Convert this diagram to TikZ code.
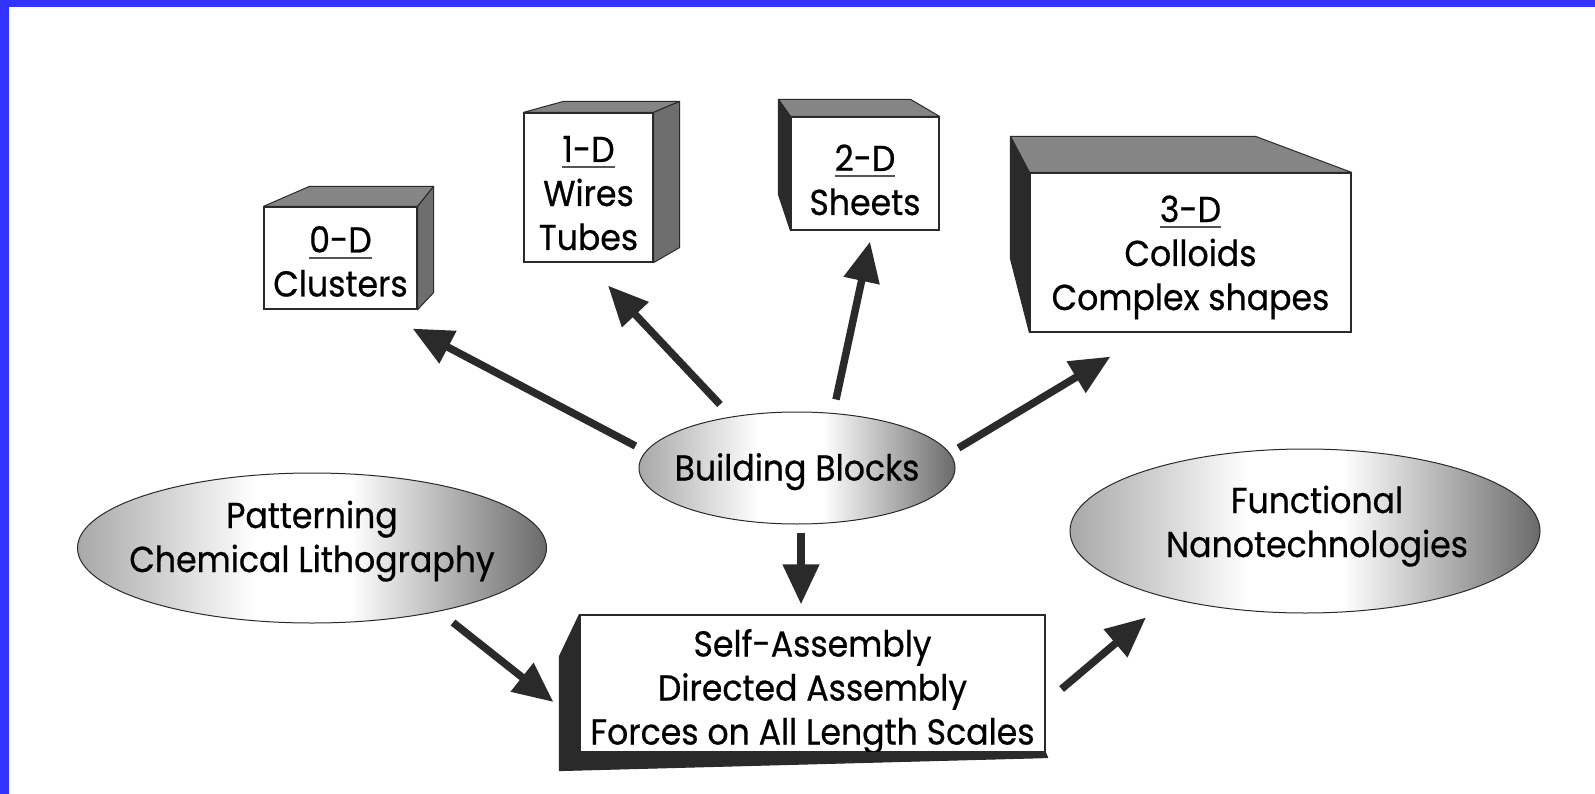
\documentclass[tikz,border=0pt]{standalone}
\usepackage{fontspec}
\setmainfont{Poppins}[FakeStretch=0.92,FakeBold=0.6]
\usetikzlibrary{shapes.geometric,arrows.meta,calc}
\definecolor{bordblue}{HTML}{3333FF}
\definecolor{ink}{HTML}{2A2A2A}
\definecolor{topgray}{HTML}{858585}
\definecolor{sidegray}{HTML}{6E6E6E}
\definecolor{ulgray}{HTML}{555555}
\definecolor{eleft}{HTML}{A8A8A8}
\definecolor{eright}{HTML}{6A6A6A}
\pgfdeclarehorizontalshading{ellshade}{100bp}{color(0bp)=(eleft); color(25bp)=(eleft); color(44bp)=(white); color(54bp)=(white); color(75bp)=(eright); color(100bp)=(eright)}
\newcommand\udl[1]{\setbox0\hbox{#1}\vtop{\offinterlineskip\copy0\kern4pt\hbox{\color{ulgray}\rule{\wd0}{2pt}}}}
\newcommand\mytop[1]{\rule{0pt}{#1pt}}
\newcommand\mybot[1]{\rule[-#1pt]{0pt}{#1pt}}
\tikzset{
  frontbox/.style={rectangle, draw=ink, line width=1.2pt, fill=white, align=center, inner xsep=0pt, inner ysep=-30pt},
  ell/.style={ellipse, draw=ink, line width=1pt, shade, shading=ellshade, align=center, inner xsep=-40pt, inner ysep=-20pt},
  topface/.style={fill=topgray, draw=ink, line width=1pt, line join=round},
  sideface/.style={fill=sidegray, draw=ink, line width=1pt, line join=round},
  darkface/.style={fill=ink, draw=ink, line width=1pt, line join=round},
  arr/.style={draw=ink, line width=7.5pt, -{Triangle[length=40pt,width=35pt]}},
}
\begin{document}
\begin{tikzpicture}[x=1pt,y=-1pt,font=\fontsize{36}{44}\selectfont]
\useasboundingbox (0,0) rectangle (1595,794);
\fill[white] (0,0) rectangle (1595,794);
\fill[bordblue] (0,0) rectangle (1595,7);
\fill[bordblue] (0,0) rectangle (9,794);

% boxes
\node[frontbox, minimum width=153pt, minimum height=102pt] (c0) at (340.5,258) {\mytop{47}\udl{0-D}\\Clusters\mybot{14}};
\node[frontbox, minimum width=129pt, minimum height=149pt] (c1) at (588.5,187.5) {\mytop{51}\udl{1-D}\\Wires\\Tubes\mybot{14}};
\node[frontbox, minimum width=148pt, minimum height=113pt] (c2) at (865,173.5) {\mytop{53}\udl{2-D}\\Sheets\mybot{14}};
\node[frontbox, minimum width=321pt, minimum height=159pt] (c3) at (1190.5,252.5) {\mytop{41}\udl{3-D}\\Colloids\\Complex shapes\mybot{14}};
\node[frontbox, minimum width=465pt, minimum height=137pt] (sa) at (812.5,683.5) {\mytop{48}Self-Assembly\\Directed Assembly\\Forces on All Length Scales\mybot{14}};

% 3D faces
\path[topface] (c0.north west) -- ++(46,-20) -- ($(c0.north east)+(16,-20)$) -- (c0.north east) -- cycle;
\path[sideface] (c0.north east) -- ++(16,-20) -- ($(c0.south east)+(16,-17)$) -- (c0.south east) -- cycle;
\path[topface] (c1.north west) -- ++(40,-11) -- ($(c1.north east)+(26,-11)$) -- (c1.north east) -- cycle;
\path[sideface] (c1.north east) -- ++(26,-11) -- ($(c1.south east)+(26,-15)$) -- (c1.south east) -- cycle;
\path[topface] (c2.north west) -- ++(-12,-17) -- ($(c2.north east)+(-29,-17)$) -- (c2.north east) -- cycle;
\path[darkface] (c2.north west) -- ++(-12,-17) -- ($(c2.south west)+(-12,-36)$) -- (c2.south west) -- cycle;
\path[topface] (c3.north west) -- ++(-19,-36) -- ($(c3.north east)+(-96,-36)$) -- (c3.north east) -- cycle;
\path[darkface] (c3.north west) -- ++(-19,-36) -- ($(c3.south west)+(-19,-74)$) -- (c3.south west) -- cycle;
\path[darkface] (sa.north west) -- ++(-20,42) -- ($(sa.south west)+(-20,18)$) -- ($(sa.south east)+(2,5)$) -- (sa.south east) -- (sa.south west) -- cycle;

% ellipses
\node[ell, minimum width=316pt, minimum height=112pt] (bb) at (797,468) {\mytop{39}Building Blocks\mybot{14}};
\node[ell, minimum width=469pt, minimum height=150pt] (pat) at (312,548) {\mytop{30}Patterning\\Chemical Lithography\mybot{26}};
\node[ell, minimum width=470pt, minimum height=164pt] (fn) at (1305,531) {\mytop{30}\hspace*{24pt}Functional\\\hspace*{24pt}Nanotechnologies\mybot{22}};

% arrows
\draw[arr] ($(bb.west)+(-3,-22)$) -- ($(c0.south east)+(-5,19)$);
\draw[arr] ($(bb.north)+(-77,-7)$) -- ($(c1.south)+(19.5,23)$);
\draw[arr] ($(bb.north)+(39,-12)$) -- ($(c2.south)+(5,11)$);
\draw[arr] ($(bb.east)+(3,-20)$) -- ($(c3.south west)+(81,24)$);
\draw[arr] ($(bb.south)+(4,8)$) -- ($(sa.north)+(-11.5,-10)$);
\draw[arr] ($(pat.south)+(141,-1)$) -- ($(sa.west)+(-26,18.5)$);
\draw[arr] ($(sa.east)+(16,5.5)$) -- ($(fn.south)+(-159,4)$);
\end{tikzpicture}
\end{document}
